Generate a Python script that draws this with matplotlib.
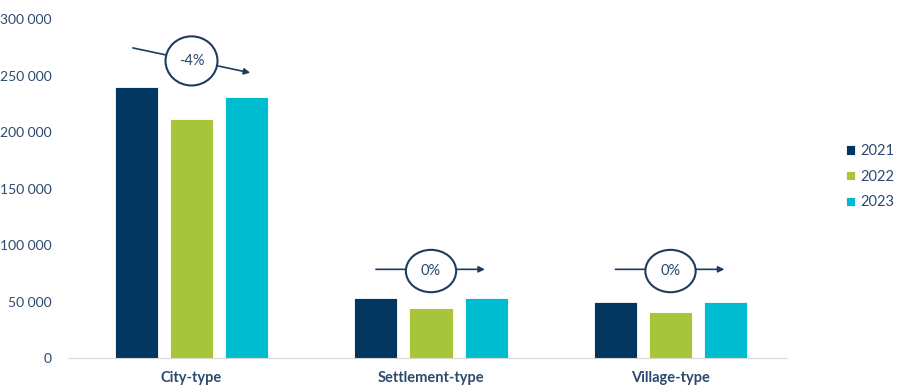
import numpy as np
import matplotlib
matplotlib.use("Agg")
import matplotlib.pyplot as plt
from matplotlib.patches import Ellipse
from matplotlib.ticker import FuncFormatter

plt.rcParams['font.family'] = ['Lato', 'DejaVu Sans']

categories = ['City-type', 'Settlement-type', 'Village-type']
years = ['2021', '2022', '2023']
values_2021 = [240000, 53000, 50000]
values_2022 = [212000, 44500, 40700]
values_2023 = [231000, 53000, 50000]

colors = ['#003660', '#a8c43a', '#00bcd0']
text_color = '#2b4a6e'
navy = '#1f3c5e'

fig = plt.figure(figsize=(8.97, 3.9), dpi=100)
ax = fig.add_axes([0.076, 0.082, 0.801, 0.869])

x = np.arange(len(categories))
step = 0.23
width = 0.18
series = [values_2021, values_2022, values_2023]
for i, (vals, yr) in enumerate(zip(series, years)):
    ax.bar(x + (i - 1) * step + 0.015, vals, width, color=colors[i], label=yr,
           edgecolor='white', linewidth=0.6)

ax.set_xlim(-0.5, 2.5)
ax.set_ylim(0, 300000)
ax.set_yticks(np.arange(0, 300001, 50000))
ax.yaxis.set_major_formatter(FuncFormatter(lambda v, p: f'{int(v):,}'.replace(',', ' ')))
ax.set_xticks(x + 0.015)
ax.set_xticklabels(categories, fontweight='bold', fontsize=10.5)
ax.tick_params(axis='both', length=0, colors=text_color)
ax.tick_params(axis='y', pad=12, labelsize=10)
ax.tick_params(axis='x', pad=9)
for s in ['top', 'right', 'left']:
    ax.spines[s].set_visible(False)
ax.spines['bottom'].set_color('#d9d9d9')

# change 2021 -> 2023 markers: ellipse with arrow running through
marks = [
    # (ellipse y, ellipse w, ellipse h, arrow start, arrow end)
    (263000, 0.217, 43500, (-0.245, 274500), (0.245, 252500)),
    (77000, 0.21, 37500, (-0.23, 78500), (0.225, 78500)),
    (77000, 0.21, 37500, (-0.23, 78500), (0.225, 78500)),
]
for i, (ey, ew, eh, a0, a1) in enumerate(marks):
    cx = x[i] + 0.015
    pct = round((values_2023[i] - values_2021[i]) / values_2021[i] * 100)
    ax.annotate('', xy=(cx + a1[0], a1[1]), xytext=(cx + a0[0], a0[1]),
                arrowprops=dict(arrowstyle='-|>', color=navy, lw=1.2,
                                mutation_scale=9, shrinkA=0, shrinkB=0),
                zorder=3)
    ax.add_patch(Ellipse((cx, ey), ew, eh, facecolor='white', edgecolor=navy,
                         lw=1.5, zorder=4))
    ax.text(cx, ey, f'{pct}%', ha='center', va='center', color=text_color,
            fontsize=10.5, zorder=5)

leg = ax.legend(loc='center left', bbox_to_anchor=(1.065, 0.535), frameon=False,
                handlelength=0.6, handleheight=0.6, handletextpad=0.35,
                labelspacing=0.8, fontsize=10.5)
for t in leg.get_texts():
    t.set_color(text_color)

fig.savefig('out.png', dpi=100)
